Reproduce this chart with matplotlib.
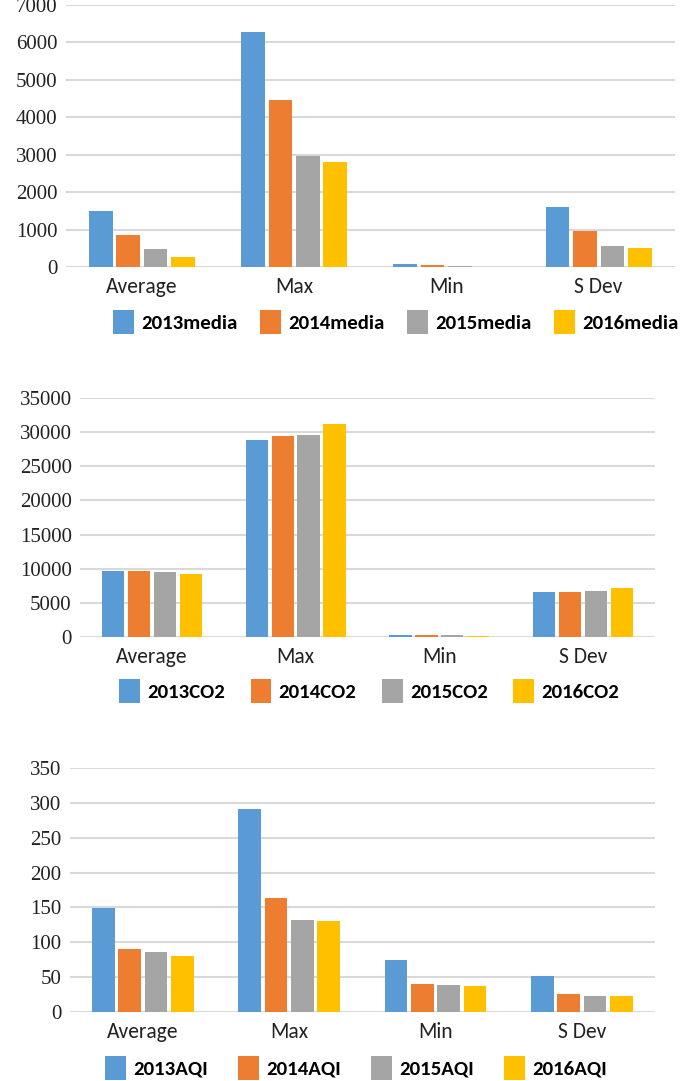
import matplotlib
matplotlib.use("Agg")
import matplotlib.pyplot as plt
import numpy as np
from matplotlib import font_manager

categories = ["Average", "Max", "Min", "S Dev"]

media_labels = ["2013media", "2014media", "2015media", "2016media"]
media_2013 = [1490, 6270, 70, 1610]
media_2014 = [850, 4470, 50, 950]
media_2015 = [470, 2970, 35, 570]
media_2016 = [280, 2810, 0, 500]

co2_labels = ["2013CO2", "2014CO2", "2015CO2", "2016CO2"]
co2_2013 = [9740, 28800, 370, 6630]
co2_2014 = [9640, 29450, 370, 6540]
co2_2015 = [9460, 29580, 370, 6720]
co2_2016 = [9230, 31250, 180, 7230]

aqi_labels = ["2013AQI", "2014AQI", "2015AQI", "2016AQI"]
aqi_2013 = [149, 291, 74.5, 52]
aqi_2014 = [91, 163, 40.5, 26.5]
aqi_2015 = [85.5, 132, 38.5, 23]
aqi_2016 = [80, 130.5, 37.5, 22.5]

colors = ["#5B9BD5", "#ED7D31", "#A5A5A5", "#FFC000"]

names = {f.name for f in font_manager.fontManager.ttflist}
serif = "Liberation Serif" if "Liberation Serif" in names else "DejaVu Serif"
sans = "Carlito" if "Carlito" in names else "Lato"

plt.rcParams["font.family"] = [serif, "DejaVu Serif"]

fig = plt.figure(figsize=(6.85, 10.81), dpi=100)

panels = [
    ([0.096, 0.753, 0.889, 0.2424], 7000, 1000,
     [media_2013, media_2014, media_2015, media_2016], media_labels, (0.578, 0.702), 1.07),
    ([0.117, 0.4107, 0.839, 0.2211], 35000, 5000,
     [co2_2013, co2_2014, co2_2015, co2_2016], co2_labels, (0.539, 0.361), 1.21),
    ([0.102, 0.0638, 0.854, 0.2257], 350, 50,
     [aqi_2013, aqi_2014, aqi_2015, aqi_2016], aqi_labels, (0.52, 0.012), 1.45),
]

x = np.arange(len(categories))
pitch = 0.18
bw = 0.155

for rect, ymax, step, series, labels, lpos, cs in panels:
    ax = fig.add_axes(rect)
    ax.tick_params(axis="both", length=0)
    ax.tick_params(axis="x", pad=7)
    ax.tick_params(axis="y", pad=6, labelsize=15, labelcolor="#222222")
    handles = []
    for i, (vals, lab) in enumerate(zip(series, labels)):
        h = ax.bar(x + (i - 1.5) * pitch, vals, width=bw, color=colors[i],
                   label=lab, zorder=3, linewidth=0)
        handles.append(h)
    ax.set_xlim(-0.5, 3.5)
    ax.set_ylim(0, ymax)
    yt = np.arange(0, ymax + step, step)
    ax.set_yticks(yt, [str(int(v)) for v in yt], fontfamily=serif, fontsize=15)
    ax.yaxis.grid(True, color="#D9D9D9", linewidth=1.5, zorder=0)
    ax.set_axisbelow(True)
    for s in ["top", "right", "left", "bottom"]:
        ax.spines[s].set_visible(False)
    ax.set_xticks(x, categories, fontfamily=sans, fontsize=15.5, color="#222222")
    fig.legend(handles=handles, loc="center", bbox_to_anchor=lpos,
               ncol=4, frameon=False, handlelength=1.0, handleheight=1.4,
               handletextpad=0.35, columnspacing=cs,
               prop={"family": sans, "weight": "bold", "size": 15})

fig.savefig("out.png", dpi=100)
